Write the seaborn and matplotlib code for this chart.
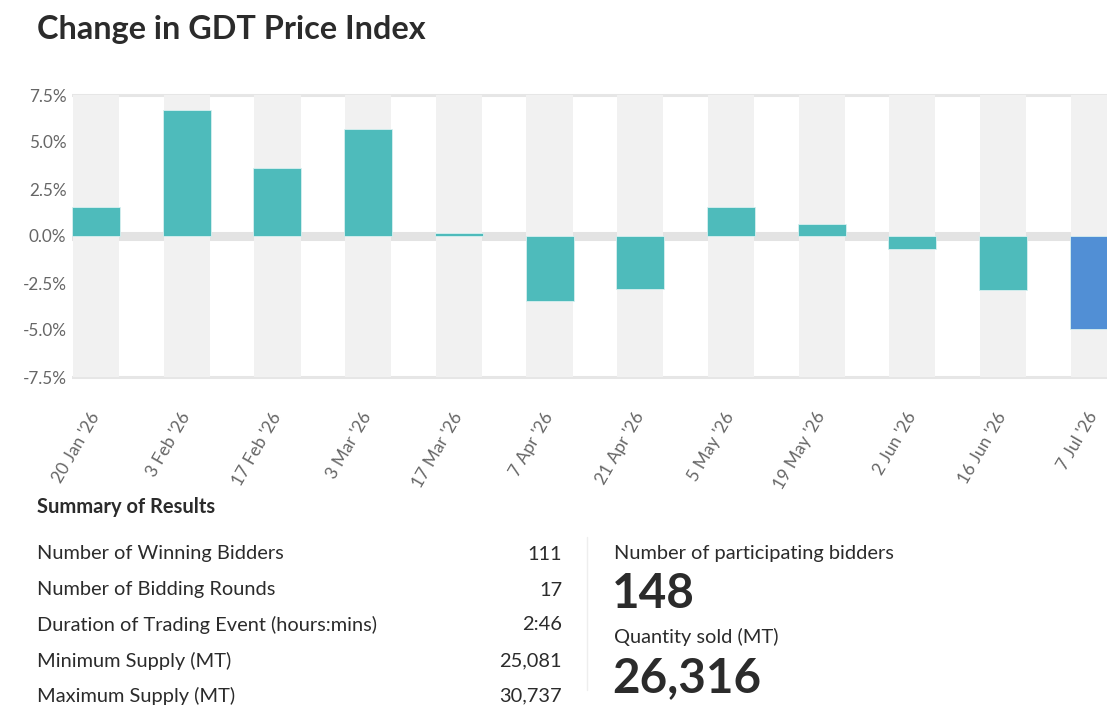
import matplotlib
matplotlib.use("Agg")
import matplotlib.pyplot as plt
import matplotlib.transforms as mtransforms
import seaborn as sns
import pandas as pd

# auction dates and change in GDT price index (%)
dates = ["20 Jan '26", "3 Feb '26", "17 Feb '26", "3 Mar '26", "17 Mar '26", "7 Apr '26",
         "21 Apr '26", "5 May '26", "19 May '26", "2 Jun '26", "16 Jun '26", "7 Jul '26"]
changes = [1.55, 6.7, 3.6, 5.7, 0.15, -3.45, -2.8, 1.55, 0.65, -0.7, -2.85, -4.95]
y_ticks = [7.5, 5.0, 2.5, 0.0, -2.5, -5.0, -7.5]

# summary of results
summary_labels = ["Number of Winning Bidders", "Number of Bidding Rounds",
                  "Duration of Trading Event (hours:mins)", "Minimum Supply (MT)",
                  "Maximum Supply (MT)"]
summary_values = ["111", "17", "2:46", "25,081", "30,737"]
participating_bidders = "148"
quantity_sold = "26,316"

TEAL = "#4ebbbb"
BLUE = "#518fd5"
TXT = "#2b2b2b"
W, H = 1107, 712

sns.set_style("white")
plt.rcParams["font.family"] = ["Lato", "DejaVu Sans"]

df = pd.DataFrame({"date": dates, "change": changes})
palette = {d: (BLUE if i == len(dates) - 1 else TEAL) for i, d in enumerate(dates)}

fig = plt.figure(figsize=(W / 100, H / 100), dpi=100)
ppu = 90.7  # pixels per category
x0 = 72
left_lim = -0.265
right_lim = left_lim + (W - x0) / ppu
ylo, yhi = -7.8, 7.8
px_pct = 18.8
ax_top = 95 - (yhi - 7.5) * px_pct
ax_bot = 377 + (-7.5 - ylo) * px_pct
ax = fig.add_axes([x0 / W, 1 - ax_bot / H, (W - x0) / W, (ax_bot - ax_top) / H])

# background lines and alternating bands
ax.axhline(0, color="#e3e3e3", lw=6.5, zorder=0)
for yv in (7.5, -7.5):
    ax.axhline(yv, color="#e6e6e6", lw=2.2, zorder=0)
for i in range(len(dates)):
    ax.axvspan(i - 0.255, i + 0.255, ymin=(-7.5 - ylo) / (yhi - ylo),
               ymax=(7.5 - ylo) / (yhi - ylo), color="#f1f1f1", lw=0, zorder=1)

sns.barplot(data=df, x="date", y="change", hue="date", palette=palette, legend=False,
            width=0.53, ax=ax, zorder=3, edgecolor="#d8f0f0", linewidth=0.6, saturation=1)

ax.set_xlim(left_lim, right_lim)
ax.set_ylim(ylo, yhi)
ax.set_yticks(y_ticks)
ax.set_yticklabels([f"{v:.1f}%" for v in y_ticks])
ax.set_xlabel("")
ax.set_ylabel("")
for s in ax.spines.values():
    s.set_visible(False)
ax.tick_params(axis="y", length=0, pad=4, labelsize=12.3, labelcolor="#666666")
ax.tick_params(axis="x", length=0, pad=24, labelsize=12.5, labelcolor="#666666")
shift = mtransforms.ScaledTranslation(4 / 100, 0, fig.dpi_scale_trans)
for lab in ax.get_xticklabels():
    lab.set_rotation(60)
    lab.set_rotation_mode("anchor")
    lab.set_ha("right")
    lab.set_va("baseline")
    lab.set_transform(lab.get_transform() + shift)

def ftext(x, y, s, **kw):
    fig.text(x / W, 1 - y / H, s, **kw)

ftext(37, 39, "Change in GDT Price Index", fontsize=23.3, fontweight="bold",
      color=TXT, va="baseline")

ftext(37, 507, "Summary of Results", fontsize=14.5, fontweight="bold", color=TXT, va="center")
row_y = [554, 590, 625, 661, 696]
for yy, lab, val in zip(row_y, summary_labels, summary_values):
    ftext(37, yy, lab, fontsize=14.4, color=TXT, va="center")
    ftext(562, yy, val, fontsize=14.4, color=TXT, va="center", ha="right")

fig.add_artist(plt.Line2D([587 / W, 587 / W], [1 - 537 / H, 1 - 690 / H],
                          color="#eeeeee", lw=1))

ftext(614, 554, "Number of participating bidders", fontsize=14.4, color=TXT, va="center")
ftext(612, 594, participating_bidders, fontsize=34.3, fontweight="bold", color=TXT, va="center")
ftext(614, 637, "Quantity sold (MT)", fontsize=14.4, color=TXT, va="center")
ftext(612, 678, quantity_sold, fontsize=34.3, fontweight="bold", color=TXT, va="center")

fig.savefig("out.png", dpi=100)
